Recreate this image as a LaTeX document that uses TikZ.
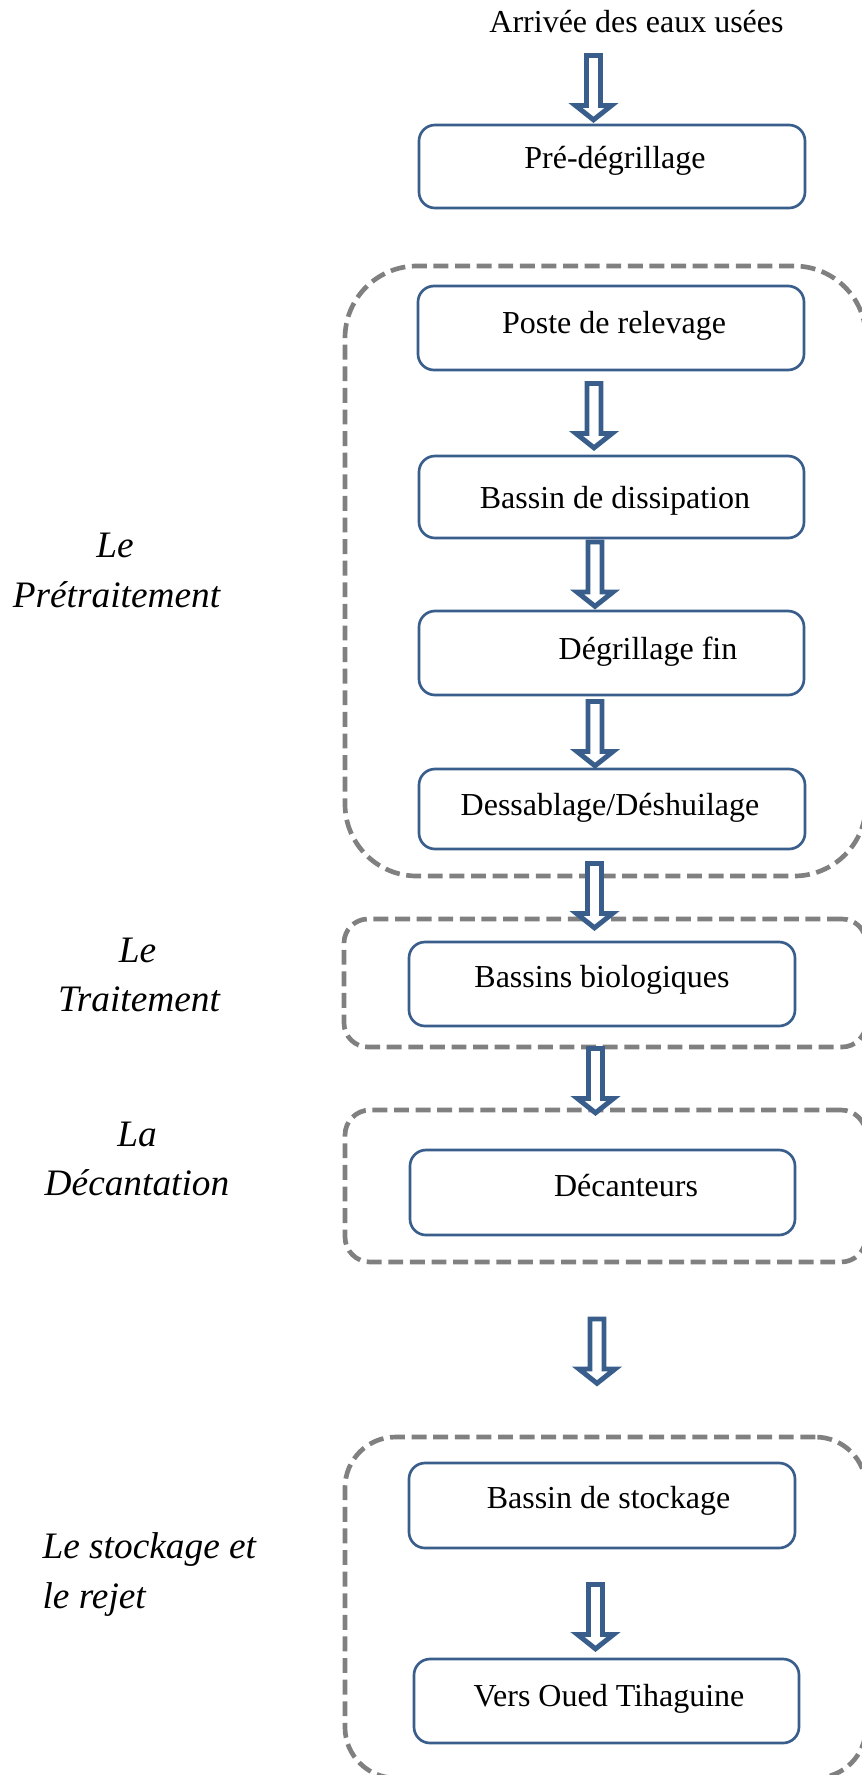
\documentclass[tikz,border=0pt]{standalone}
\usepackage{fontspec}
\setmainfont{Liberation Serif}
\usetikzlibrary{fit,calc}
\definecolor{stageblue}{RGB}{58,94,140}
\definecolor{groupgray}{RGB}{128,128,128}
\tikzset{
  stage/.style={draw=stageblue, line width=1pt, rounded corners=6pt, inner sep=0pt},
  stagetext/.style={anchor=base, inner sep=0pt, font=\fontsize{12}{14}\selectfont},
  phasetext/.style={anchor=base, inner sep=0pt, font=\fontsize{14}{17}\selectfont\itshape},
  group/.style={draw=groupgray, line width=1.75pt, dash pattern=on 5.6pt off 2.5pt, inner sep=0pt},
  flow/.style={draw=stageblue, fill=white, line width=1.85pt, line join=miter},
}
% hollow block arrow: #1 name of its tip, #2 centre x, #3 top y
\newcommand\flowarrow[3]{%
  \draw[flow] ({#2-7},{#3+2.5}) -- ({#2+7},{#3+2.5}) -- ({#2+7},{#3+52.5})
    -- ({#2+18},{#3+52.5}) -- (#2,{#3+66.8}) coordinate (#1)
    -- ({#2-18},{#3+52.5}) -- ({#2-7},{#3+52.5}) -- cycle;}
\begin{document}
\begin{tikzpicture}[x=0.375pt, y=-0.375pt]
\clip (0,0) rectangle (862,1775);
\fill[white] (0,0) rectangle (862,1775);

% dashed phase groups
\node[group, rounded corners=27pt, fit={(345,266) (866,876)}] (gpre) {};
\node[group, rounded corners=9pt, fit={(344,919) (866,1047)}] (gbio) {};
\node[group, rounded corners=9.4pt, fit={(345,1110) (866,1262)}] (gdec) {};
\node[group, rounded corners=19pt, fit={(345,1437) (866,1778)}] (gsto) {};

% process stages
\node[stage, fit={(419,125) (805,208)}] (pre) {};
\node[stage, fit={(418,286) (804,370)}] (poste) {};
\node[stage, fit={(419,456) (804,538)}] (diss) {};
\node[stage, fit={(419,611) (804,695)}] (deg) {};
\node[stage, fit={(419,769) (805,849)}] (dess) {};
\node[stage, fit={(409,942) (795,1026)}] (bio) {};
\node[stage, fit={(410,1150) (795,1235)}] (dec) {};
\node[stage, fit={(409,1463) (795,1548)}] (stock) {};
\node[stage, fit={(414,1659) (799,1743)}] (vers) {};

% stage texts
\node[stagetext] (src) at (636.5,32) {Arrivée des eaux usées};
\node[stagetext] at (615,168) {Pré-dégrillage};
\node[stagetext] at (614,333) {Poste de relevage};
\node[stagetext] at (615,508.5) {Bassin de dissipation};
\node[stagetext] at (648,659.5) {Dégrillage fin};
\node[stagetext] at (610,815.5) {Dessablage/Déshuilage};
\node[stagetext] at (602,987) {Bassins biologiques};
\node[stagetext] at (626,1196) {Décanteurs};
\node[stagetext] at (608.5,1508) {Bassin de stockage};
\node[stagetext] at (609,1706) {Vers Oued Tihaguine};

% flow arrows
\flowarrow{t1}{593.5}{53}
\flowarrow{t2}{594}{381}
\flowarrow{t3}{595}{539.5}
\flowarrow{t4}{595}{699}
\flowarrow{t5}{594.5}{861}
\flowarrow{t6}{595.5}{1046}
\flowarrow{t7}{597}{1316.5}
\flowarrow{t8}{595.5}{1582}

% phase names
\node[phasetext] at (115,557) {Le};
\node[phasetext] at (116.5,607) {Prétraitement};
\node[phasetext] at (137.5,962.5) {Le};
\node[phasetext] at (139,1011) {Traitement};
\node[phasetext] at (137,1146.5) {La};
\node[phasetext] at (137,1195) {Décantation};
\node[phasetext, anchor=base west] at (42,1558) {Le stockage et};
\node[phasetext, anchor=base west] at (42,1608) {le rejet};
\end{tikzpicture}
\end{document}
